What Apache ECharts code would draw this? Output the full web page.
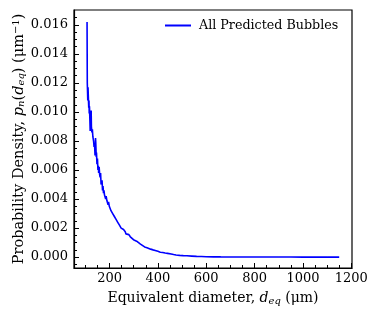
<!DOCTYPE html>
<html>
<head>
<meta charset="utf-8">
<script src="https://cdn.jsdelivr.net/npm/echarts@6/dist/echarts.min.js"></script>
<style>html,body{margin:0;padding:0;background:#fff;}#c{width:378px;height:317px;}</style>
</head>
<body>
<div id="c"></div>
<script>
const seriesName = 'All Predicted Bubbles';
const diam = [107,108,110,111,112,114,115,116,117,119,120,122,124,125,127,129,131,134,136,138,140,142,143,145,146,148,150,152,154,155,157,159,161,163,165,167,169,171,173,175,177,179,182,184,186,189,192,194,196,199,203,206,210,213,217,220,224,227,230,234,237,241,244,248,251,255,258,262,265,268,272,276,280,286,293,299,305,312,320,328,335,345,355,362,370,380,389,400,410,420,430,440,447,455,465,475,490,505,520,540,560,580,600,630,660,700,750,800,850,900,950,1000,1050,1100,1150];
const density = [0.0162,0.0120,0.0108,0.0117,0.0112,0.0103,0.0108,0.0099,0.0104,0.0093,0.0087,0.0095,0.0101,0.0090,0.0086,0.0088,0.0083,0.0080,0.0076,0.0078,0.0070,0.0082,0.0079,0.0069,0.0072,0.0064,0.0068,0.0060,0.0063,0.0058,0.0062,0.0057,0.0055,0.0058,0.0050,0.0049,0.0053,0.0046,0.0049,0.0044,0.0046,0.0043,0.0044,0.0040,0.0042,0.0039,0.0040,0.0036,0.0038,0.0035,0.0036,0.0032,0.0033,0.0030,0.0031,0.0028,0.0029,0.0026,0.0027,0.0024,0.0025,0.0022,0.0023,0.0020,0.0021,0.0019,0.0019,0.0018,0.00175,0.0016,0.00166,0.0015,0.00155,0.0014,0.00138,0.0012,0.00122,0.0011,0.00105,0.0009,0.00088,0.0007,0.00065,0.00058,0.00055,0.0005,0.00046,0.0004,0.00034,0.00032,0.00028,0.00026,0.00029,0.00022,0.00018,0.00015,0.00012,0.0001,0.00009,0.00007,0.00005,0.00004,0.00003,0.00002,0.000015,0.00001,0.000008,0.000005,0.000004,0.000003,0.000003,0.000002,0.000002,0.000001,0.000001];
const xTicks = [200,400,600,800,1000,1200];
const xMinorTicks = [100,150,250,300,350,450,500,550,650,700,750,850,900,950,1050,1100,1150];
const yTicks = [0,0.002,0.004,0.006,0.008,0.010,0.012,0.014,0.016];
const yMinorTicks = [-0.0005,0.0005,0.001,0.0015,0.0025,0.003,0.0035,0.0045,0.005,0.0055,0.0065,0.007,0.0075,0.0085,0.009,0.0095,0.0105,0.011,0.0115,0.0125,0.013,0.0135,0.0145,0.015,0.0155,0.0165];

const FONT = 'DejaVu Serif';
const X_MIN = 53, X_MAX = 1203, Y_MIN = -0.00075, Y_MAX = 0.01703;

const chart = echarts.init(document.getElementById('c'), null, {renderer: 'canvas'});
const tickStyle = {color: '#000', width: 1};
chart.setOption({
  backgroundColor: '#fff',
  animation: false,
  grid: {left: 74, top: 10, width: 278, height: 258, show: true, borderColor: '#000', borderWidth: 1.2, containLabel: false, outerBoundsMode: 'none'},
  legend: {
    left: 165, top: 19, padding: 0, icon: 'rect', itemWidth: 26, itemHeight: 2, itemGap: 5,
    textStyle: {fontFamily: FONT, fontSize: 12.7, color: '#000', padding: [0,0,0,3]},
    data: [seriesName]
  },
  xAxis: [{
    type: 'value', min: X_MIN, max: X_MAX, position: 'bottom',
    axisLine: {show: true, onZero: false, lineStyle: {color: '#000', width: 1.2}},
    axisTick: {show: true, inside: true, length: 5, lineStyle: tickStyle, customValues: xTicks},
    axisLabel: {show: true, customValues: xTicks, formatter: v => String(Math.round(v)), fontFamily: FONT, fontSize: 13, color: '#000', margin: 4},
    splitLine: {show: false},
    name: 'Equivalent diameter, {i|d}{s|eq} (μm)',
    nameLocation: 'middle', nameGap: 23, nameMoveOverlap: false,
    nameTextStyle: {
      fontFamily: FONT, fontSize: 14, color: '#000',
      rich: {
        i: {fontFamily: FONT, fontSize: 14, fontStyle: 'italic', color: '#000'},
        s: {fontFamily: FONT, fontSize: 10, fontStyle: 'italic', color: '#000', padding: [5,0,0,0]}
      }
    }
  }, {
    type: 'value', min: X_MIN, max: X_MAX, position: 'bottom',
    axisLine: {show: false, onZero: false},
    axisTick: {show: true, inside: true, length: 3, lineStyle: tickStyle, customValues: xMinorTicks},
    axisLabel: {show: false, customValues: xMinorTicks},
    splitLine: {show: false}
  }],
  yAxis: [{
    type: 'value', min: Y_MIN, max: Y_MAX, position: 'left',
    axisLine: {show: true, onZero: false, lineStyle: {color: '#000', width: 1.2}},
    axisTick: {show: true, inside: true, length: 5, lineStyle: tickStyle, customValues: yTicks},
    axisLabel: {show: true, customValues: yTicks, formatter: v => v.toFixed(3), fontFamily: FONT, fontSize: 13, color: '#000', margin: 6},
    splitLine: {show: false},
    name: 'Probability Density, {i|p}{s|n}({i|d}{s|eq}) (μm{u|−1})',
    nameLocation: 'middle', nameGap: 47, nameRotate: 90, nameMoveOverlap: false,
    nameTextStyle: {
      fontFamily: FONT, fontSize: 14.5, color: '#000',
      rich: {
        i: {fontFamily: FONT, fontSize: 14.5, fontStyle: 'italic', color: '#000'},
        s: {fontFamily: FONT, fontSize: 10, fontStyle: 'italic', color: '#000', padding: [5,0,0,0]},
        u: {fontFamily: FONT, fontSize: 10, color: '#000', padding: [0,0,6,0]}
      }
    }
  }, {
    type: 'value', min: Y_MIN, max: Y_MAX, position: 'left',
    axisLine: {show: false, onZero: false},
    axisTick: {show: true, inside: true, length: 3, lineStyle: tickStyle, customValues: yMinorTicks},
    axisLabel: {show: false, customValues: yMinorTicks},
    splitLine: {show: false}
  }],
  series: [{
    name: seriesName, type: 'line', xAxisIndex: 0, yAxisIndex: 0,
    data: diam.map((d, i) => [d, density[i]]),
    showSymbol: false, symbol: 'none',
    lineStyle: {color: '#0000ff', width: 1.6},
    itemStyle: {color: '#0000ff'},
    clip: true
  }]
});
</script>
</body>
</html>
